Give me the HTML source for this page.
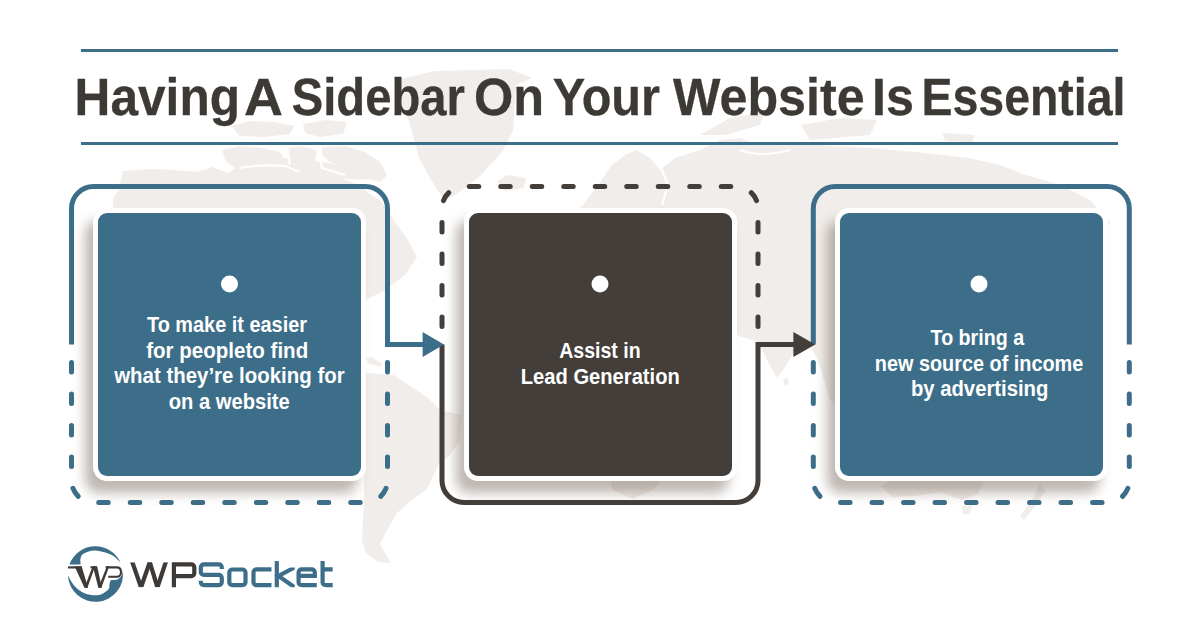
<!DOCTYPE html>
<html><head><meta charset="utf-8">
<style>
html,body{margin:0;padding:0;background:#fff;}
body{width:1200px;height:630px;position:relative;overflow:hidden;font-family:"Liberation Sans",sans-serif;}
svg{position:absolute;left:0;top:0;}
.card{position:absolute;width:273px;height:273px;border-radius:14px;background:#fff;box-shadow:-8px 12px 12px rgba(110,95,85,0.45);}
.card .in{position:absolute;left:5px;top:5px;width:263px;height:263px;border-radius:9px;}
.blue{background:#3d6e89;}
.dark{background:#433e3a;}
</style></head><body>
<svg width="1200" height="630" viewBox="0 0 1200 630" id="map">
<g fill="#f1edea">
<path d="M113 208 L113 198 L119 190 L121 178 L123 171 L150 169 L175 170 L197 172 L212 167 L228 173 L262 174 L300 177 L340 178 L360 185 L368 193 L380 200 L395 222 L408 240 L417 257 L405 275 L385 290 L366 300 L340 380 L320 440 L250 400 L150 300 L113 240 Z"/>
<path d="M231 126 L250 121 L275 122 L294 126 L290 134 L265 137 L240 136 Z"/>
<path d="M303 124 L325 120 L347 122 L343 134 L320 137 L305 133 Z"/>
<path d="M222 150 L240 146 L262 148 L280 152 L285 160 L275 168 L255 172 L238 170 L226 162 Z"/>
<path d="M288 148 L300 146 L317 150 L315 162 L300 167 L290 160 Z"/>
<path d="M322 147 L345 146 L365 152 L380 162 L387 175 L380 182 L362 176 L345 168 L330 162 L322 155 Z"/>
<path d="M396 80 L435 71 L509 69 L532 78 L516 85 L513 131 L502 152 L479 177 L455 195 L444 200 L430 178 L419 158 L410 124 L400 100 Z"/>
<path d="M497 181 L508 175 L526 178 L524 188 L505 191 Z"/>
<path d="M366 373 L393 375 L410 386 L427 397 L440 410 L462 415 L460 440 L450 455 L439 464 L427 489 L412 500 L397 513 L387 530 L380 544 L391 563 L378 562 L366 553 L362 540 L364 500 L365 440 Z"/>
<path d="M783 379 L788 378 L789 384 L784 385 Z"/>
<path d="M232 170 L250 160 L290 158 L330 163 L370 172 L385 180 L300 178 L228 174 Z"/>
<path d="M366 358 L372 357 L382 364 L380 367 L368 363 Z"/>
<path d="M583 205 L598 185 L611 166 L625 155 L636 150 L650 158 L660 170 L675 158 L700 150 L720 140 L740 138 L760 145 L790 142 L830 146 L870 148 L915 152 L969 158 L1000 165 L1023 174 L1060 185 L1090 200 L1110 222 L1100 240 L1085 270 L1060 320 L1020 380 L980 420 L900 450 L850 420 L830 400 L818 360 L808 342 L798 345 L786 366 L777 378 L768 362 L758 342 L745 338 L700 320 L640 300 L600 260 L575 235 L570 215 Z"/>
<path d="M700 135 L730 118 L765 112 L760 125 L725 135 Z"/>
<path d="M801 125 L840 118 L877 120 L870 135 L810 140 Z"/>
<path d="M942 133 L975 135 L972 142 L945 141 Z"/>
<path d="M560 260 L640 255 L700 270 L728 320 L732 360 L715 420 L680 460 L653 490 L633 499 L613 490 L600 440 L590 380 L560 340 L520 320 L500 290 L520 265 Z"/>
<path d="M881 486 L895 478 L920 474 L945 472 L970 476 L983 482 L978 494 L962 500 L940 492 L915 496 L892 497 Z"/>
<path d="M962 506 L972 505 L970 514 L963 514 Z"/>
<path d="M1040 484 L1046 490 L1036 505 L1024 520 L1020 516 L1032 500 Z"/>
<g fill="none" stroke="#fff" stroke-width="2.2"><path d="M240 168 Q265 164 285 166 L300 172"/><path d="M287 148 L290 165"/><path d="M318 148 L322 168 L345 175"/><path d="M658 160 L668 185 L662 205"/><path d="M740 150 Q760 158 790 150"/></g>
</g>
</svg>
<svg width="1200" height="630" viewBox="0 0 1200 630" id="frames">
<rect x="81" y="49" width="1037" height="3" fill="#3d6e89"/>
<rect x="81" y="142" width="1037" height="3" fill="#3d6e89"/>
<g id="title" font-family="Liberation Sans" font-weight="bold" font-size="51" fill="#3d3935" stroke="#3d3935" stroke-width="0.3"><text x="74.60" y="115" textLength="165.41" lengthAdjust="spacingAndGlyphs">Having</text><text x="244.00" y="115" textLength="39.00" lengthAdjust="spacingAndGlyphs">A</text><text x="291.80" y="115" textLength="173.01" lengthAdjust="spacingAndGlyphs">Sidebar</text><text x="474.00" y="115" textLength="70.07" lengthAdjust="spacingAndGlyphs">On</text><text x="552.80" y="115" textLength="107.21" lengthAdjust="spacingAndGlyphs">Your</text><text x="673.00" y="115" textLength="191.62" lengthAdjust="spacingAndGlyphs">Website</text><text x="872.00" y="115" textLength="41.90" lengthAdjust="spacingAndGlyphs">Is</text><text x="921.60" y="115" textLength="203.76" lengthAdjust="spacingAndGlyphs">Essential</text></g>
<g fill="none" stroke-width="5">
<path d="M71.5 344.5 V208.5 A22 22 0 0 1 93.5 186.5 H365.5 A22 22 0 0 1 387.5 208.5 V344.5 H423" stroke="#3d6e89"/>
<path d="M229.5 502.5 H93.5 A22 22 0 0 1 71.5 480.5 V344.5" stroke="#3d6e89" stroke-dasharray="9.5 22" stroke-dashoffset="4.75" stroke-linecap="round"/>
<path d="M229.5 502.5 H365.5 A22 22 0 0 0 387.5 480.5 V344.5" stroke="#3d6e89" stroke-dasharray="9.5 22" stroke-dashoffset="4.75" stroke-linecap="round"/>
<path d="M600 186.5 H464 A22 22 0 0 0 442 208.5 V344.5" stroke="#433e3a" stroke-dasharray="9.5 22" stroke-dashoffset="4.75" stroke-linecap="round"/>
<path d="M600 186.5 H736 A22 22 0 0 1 758 208.5 V344.5" stroke="#433e3a" stroke-dasharray="9.5 22" stroke-dashoffset="4.75" stroke-linecap="round"/>
<path d="M442 344.5 V480.5 A22 22 0 0 0 464 502.5 H736 A22 22 0 0 0 758 480.5 V344.5 H794" stroke="#433e3a"/>
<path d="M813.3 344.5 V208.5 A22 22 0 0 1 835.3 186.5 H1107.3 A22 22 0 0 1 1129.3 208.5 V344.5" stroke="#3d6e89"/>
<path d="M971.3 502.5 H835.3 A22 22 0 0 1 813.3 480.5 V344.5" stroke="#3d6e89" stroke-dasharray="9.5 22" stroke-dashoffset="4.75" stroke-linecap="round"/>
<path d="M971.3 502.5 H1107.3 A22 22 0 0 0 1129.3 480.5 V344.5" stroke="#3d6e89" stroke-dasharray="9.5 22" stroke-dashoffset="4.75" stroke-linecap="round"/>
</g>
<path d="M422.6 332 L444 344.5 L422.6 357 Z" fill="#3d6e89"/>
<path d="M793.4 332 L815.2 344.5 L793.4 357 Z" fill="#433e3a"/>
</svg>
<div class="card" style="left:93px;top:208px"><div class="in blue"></div></div>
<div class="card" style="left:464px;top:208px"><div class="in dark"></div></div>
<div class="card" style="left:835px;top:208px"><div class="in blue"></div></div>
<svg width="1200" height="630" viewBox="0 0 1200 630" id="txt">
<g fill="#fff">
<circle cx="229.5" cy="284" r="8.5"/>
<circle cx="600" cy="284" r="8.5"/>
<circle cx="979" cy="284" r="8.5"/>
</g>
<g font-family="Liberation Sans" font-weight="bold" font-size="21.5" fill="#fff" lengthAdjust="spacingAndGlyphs">
<text x="147" y="332.2" textLength="160" lengthAdjust="spacingAndGlyphs">To make it easier</text>
<text x="146.2" y="357.6" textLength="162" lengthAdjust="spacingAndGlyphs">for peopleto find</text>
<text x="114.2" y="383.4" textLength="230.5" lengthAdjust="spacingAndGlyphs">what they’re looking for</text>
<text x="168.8" y="409.3" textLength="121" lengthAdjust="spacingAndGlyphs">on a website</text>
<text x="559.2" y="358.3" textLength="81.5" lengthAdjust="spacingAndGlyphs">Assist in</text>
<text x="520.8" y="384" textLength="159" lengthAdjust="spacingAndGlyphs">Lead Generation</text>
<text x="930.6" y="344.8" textLength="93.5" lengthAdjust="spacingAndGlyphs">To bring a</text>
<text x="874.8" y="370.5" textLength="208.5" lengthAdjust="spacingAndGlyphs">new source of income</text>
<text x="910.9" y="395.6" textLength="137.5" lengthAdjust="spacingAndGlyphs">by advertising</text>
</g>
</svg>
<svg width="1200" height="630" viewBox="0 0 1200 630" id="logo">
<defs><clipPath id="kclip"><rect x="270" y="567.4" width="24.8" height="19.8"/></clipPath><clipPath id="wclip"><rect x="100" y="562.3" width="80" height="24.9"/></clipPath></defs>
<g fill="#3e3a37">
<g clip-path="url(#wclip)">
<path d="M130.1 562.3 H134.6 L143.3 587.2 H138.8 Z"/>
<path d="M138.8 587.2 H143.3 L152 562.3 H147.5 Z"/>
<path d="M147.5 562.3 H152 L159.7 587.2 H155.2 Z"/>
<path d="M155.2 587.2 H159.7 L168 562.3 H163.5 Z"/>
</g>
</g>
<g fill="none" stroke-width="4.2">
<path d="M173.9 587.2 V564.4 H191.3 A3 3 0 0 1 194.3 567.4 V573.1 A3 3 0 0 1 191.3 576.1 H173.9" stroke="#3e3a37"/>
<g stroke="#3d6e89">
<path d="M221.8 569 V567.4 A3 3 0 0 0 218.8 564.4 H203.8 A3 3 0 0 0 200.8 567.4 V571.9 A3 3 0 0 0 203.8 574.9 H218.8 A3 3 0 0 1 221.8 577.9 V582.1 A3 3 0 0 1 218.8 585.1 H203.8 A3 3 0 0 1 200.8 582.1 V580.8"/>
<rect x="229.3" y="569.5" width="16.2" height="15.6" rx="3"/>
<path d="M271.5 569.4 H256.5 A3 3 0 0 0 253.5 572.4 V582.2 A3 3 0 0 0 256.5 585.2 H271.5"/>
<path d="M276.8 561.1 V587.2"/>
<path d="M300 564.5 L278.5 576 L300 591" stroke-linejoin="miter" clip-path="url(#kclip)"/>
<path d="M316.8 585.2 H301.6 A3 3 0 0 1 298.6 582.2 V572.4 A3 3 0 0 1 301.6 569.4 H311.8 A3 3 0 0 1 314.8 572.4 V575.9 H298.6"/>
<path d="M322.6 561.1 V582.2 A3 3 0 0 0 325.6 585.2 H332.7 M320.5 569.4 H332.7"/>
</g>
</g>
<!-- emblem -->
<g fill="#3d6e89">
<path d="M69.4 564.6 A27.6 27.6 0 0 1 120.3 562 C118.8 560.8 115.2 556.6 111.1 554.7 C106.9 552.8 99.9 550.7 95.4 550.5 C90.9 550.3 86.4 552.3 83.9 553.6 C81.4 554.9 81.0 556.7 80.5 558.5 C80.0 560.3 80.7 563.6 80.7 564.6 Z"/>
<path d="M67.9 575.6 A27.6 27.6 0 1 0 122.8 570.4 C122.6 571.2 122.4 574.0 121.5 575.5 C120.6 577.0 119.2 578.8 117.5 579.6 C115.8 580.4 112.3 579.6 111.0 580.3 C109.7 581.0 110.0 582.5 109.6 584.0 C109.1 585.5 110.1 587.7 108.3 589.5 C106.5 591.3 102.5 594.4 98.6 595.0 C94.7 595.6 88.9 594.9 84.9 593.4 C80.9 591.9 77.3 589.1 74.5 586.1 C71.7 583.1 69.0 577.4 67.9 575.6 Z"/>
</g>
<g fill="#3e3a37">
<path d="M68 566.35 H81.5 V568.5 H68 Z"/>
<path d="M74.6 566.35 H81.6 L88.1 587.7 H84.4 Z"/>
<path d="M84.4 587.7 H87.4 L95.1 566.35 H92.6 Z"/>
<path d="M90.4 566.35 H96.6 V568.3 H90.4 Z"/>
<path d="M92.9 566.35 H97.1 L101.9 587.7 H98.3 Z"/>
<path d="M98.3 587.7 H101.3 L109.3 566.35 H106.9 Z"/>
</g>
<path d="M105.6 567.4 H116.8 C120 567.4 121 569.5 121 572 C121 574.5 119.5 576.8 117 576.8 H108.2" fill="none" stroke="#3e3a37" stroke-width="2.1"/>
</svg>
</body></html>
